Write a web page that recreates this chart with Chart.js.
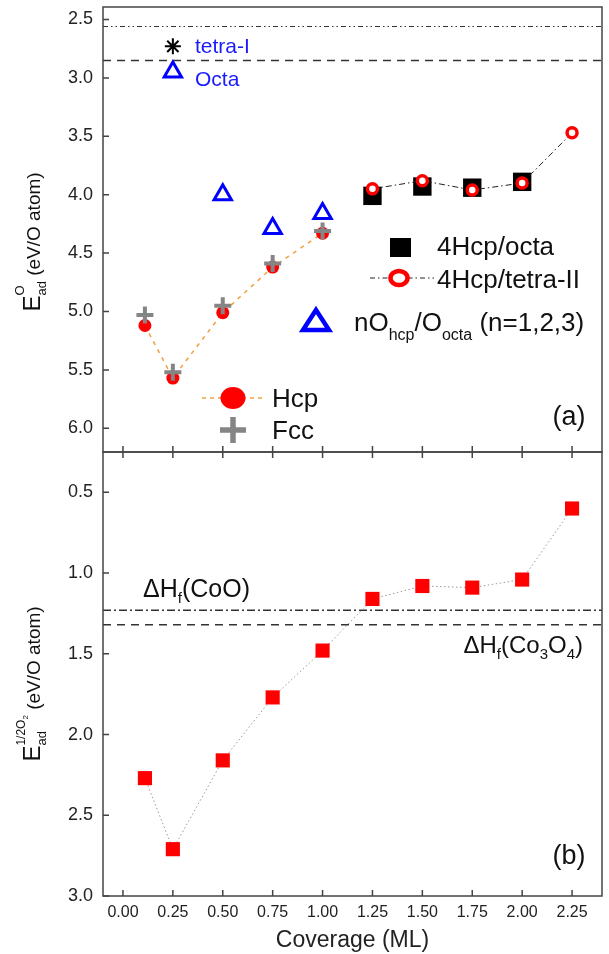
<!DOCTYPE html>
<html>
<head>
<meta charset="utf-8">
<script src="https://cdn.jsdelivr.net/npm/chart.js@4.4.0/dist/chart.umd.min.js"></script>
<style>
  html, body { margin: 0; padding: 0; background: #fff; }
  #wrap { position: relative; width: 609px; height: 954px; }
  #top { position: absolute; left: 0; top: 0; }
  #bottom { position: absolute; left: 0; top: 446px; }
</style>
</head>
<body>
<div id="wrap">
  <canvas id="top" width="609" height="460"></canvas>
  <canvas id="bottom" width="609" height="508"></canvas>
</div>
<script>
const FONT = '"Liberation Sans", Arial, Helvetica, sans-serif';

// shared axis
const xTicks = [0, 0.25, 0.5, 0.75, 1.0, 1.25, 1.5, 1.75, 2.0, 2.25];
const xMin = -0.1, xMax = 2.4;

// panel (a)
const yTicksTop = [2.5, 3.0, 3.5, 4.0, 4.5, 5.0, 5.5, 6.0];
const hcpCov = [0.11, 0.25, 0.5, 0.75, 1.0];
const hcpE = [5.12, 5.57, 5.01, 4.62, 4.33];
const fccE = [5.03, 5.52, 4.95, 4.59, 4.31];
const octaCov = [0.25];
const octaE = [2.95];
const tetraICov = [0.25];
const tetraIE = [2.73];
const nOCov = [0.5, 0.75, 1.0];
const nOE = [4.00, 4.29, 4.16];
const hcp4Cov = [1.25, 1.5, 1.75, 2.0];
const hcp4OctaE = [4.01, 3.93, 3.94, 3.89];
const tetra2Cov = [1.25, 1.5, 1.75, 2.0, 2.25];
const tetra2E = [3.95, 3.88, 3.96, 3.90, 3.47];
const refTop = [2.56, 2.85];

// panel (b)
const yTicksBottom = [0.5, 1.0, 1.5, 2.0, 2.5, 3.0];
const covB = [0.11, 0.25, 0.5, 0.75, 1.0, 1.25, 1.5, 1.75, 2.0, 2.25];
const eB = [2.27, 2.71, 2.16, 1.77, 1.48, 1.16, 1.08, 1.09, 1.04, 0.60];
const refBottom = [1.23, 1.32]; // CoO, Co3O4

function pts(xs, ys) { return xs.map((x, i) => ({ x: x, y: ys[i] })); }
function hline(y) { return [{ x: xMin, y: y }, { x: xMax, y: y }]; }

// no extra room for edge labels, the chart area is set by layout padding
function noPad(s) { s.paddingTop = 0; s.paddingBottom = 0; s.paddingLeft = 0; s.paddingRight = 0; }

// parts: [text, size, dy, noAdvance]
function rich(ctx, parts, x, y, align) {
    let w = 0;
    parts.forEach(p => { if (!p[3]) { ctx.font = p[1] + 'px ' + FONT; w += ctx.measureText(p[0]).width; } });
    let cx = align === 'right' ? x - w : (align === 'center' ? x - w / 2 : x);
    parts.forEach(p => {
        ctx.font = p[1] + 'px ' + FONT;
        ctx.fillText(p[0], cx, y + (p[2] || 0));
        if (!p[3]) cx += ctx.measureText(p[0]).width;
    });
}

function yTitle(ctx, cx, cy, parts) {
    ctx.save();
    ctx.translate(cx, cy);
    ctx.rotate(-Math.PI / 2);
    ctx.textBaseline = 'alphabetic';
    rich(ctx, parts, 0, 0, 'center');
    ctx.restore();
}

// box frame + inward ticks
const frame = {
    id: 'frame',
    afterDatasetsDraw(chart, args, opts) {
        const { ctx, chartArea: a, scales } = chart;
        ctx.save();
        ctx.strokeStyle = '#444';
        ctx.lineWidth = 1.5;
        ctx.strokeRect(a.left, a.top, a.right - a.left, a.bottom - a.top);
        ctx.beginPath();
        scales.y.ticks.forEach(t => {
            const py = scales.y.getPixelForValue(t.value);
            ctx.moveTo(a.left, py); ctx.lineTo(a.left + 6, py);
        });
        xTicks.forEach(v => {
            const px = scales.x.getPixelForValue(v);
            if (opts.tickBottom) { ctx.moveTo(px, a.bottom); ctx.lineTo(px, a.bottom - 6); }
            if (opts.tickTop) { ctx.moveTo(px, a.top); ctx.lineTo(px, a.top + 6); }
        });
        ctx.stroke();
        ctx.restore();
    }
};

const decorTop = {
    id: 'decorTop',
    afterDraw(chart) {
        const ctx = chart.ctx;
        ctx.save();
        ctx.textBaseline = 'alphabetic';
        ctx.textAlign = 'left';

        // labels near the isolated points
        ctx.fillStyle = '#1a1aff';
        ctx.font = '21px ' + FONT;
        ctx.fillText('tetra-I', 195, 53);
        ctx.fillText('Octa', 195, 86);

        // legend right
        ctx.fillStyle = '#000';
        ctx.fillRect(390, 238, 21, 19);
        ctx.strokeStyle = '#222';
        ctx.lineWidth = 1.2;
        ctx.setLineDash([5, 3, 1.5, 3]);
        ctx.beginPath(); ctx.moveTo(370, 278); ctx.lineTo(434, 278); ctx.stroke();
        ctx.setLineDash([]);
        ctx.fillStyle = '#fff';
        ctx.strokeStyle = '#ff0000';
        ctx.lineWidth = 4.5;
        ctx.beginPath(); ctx.ellipse(399, 278, 8.5, 7, 0, 0, Math.PI * 2); ctx.fill(); ctx.stroke();

        ctx.strokeStyle = '#0000ff';
        ctx.lineWidth = 4.5;
        ctx.lineJoin = 'miter';
        ctx.beginPath(); ctx.moveTo(316, 310); ctx.lineTo(329, 330); ctx.lineTo(303, 330); ctx.closePath();
        ctx.fill(); ctx.stroke();

        ctx.fillStyle = '#111';
        rich(ctx, [['4Hcp/octa', 26]], 437, 255);
        rich(ctx, [['4Hcp/tetra-II', 26]], 437, 288);
        rich(ctx, [['nO', 26], ['hcp', 16, 9], ['/O', 26], ['octa', 16, 9], [' (n=1,2,3)', 26]], 354, 331);

        // legend left
        ctx.strokeStyle = '#f0a040';
        ctx.lineWidth = 1.5;
        ctx.setLineDash([4, 4]);
        ctx.beginPath(); ctx.moveTo(202, 398); ctx.lineTo(262, 398); ctx.stroke();
        ctx.setLineDash([]);
        ctx.fillStyle = '#ff0000';
        ctx.beginPath(); ctx.ellipse(233, 398, 12.5, 11, 0, 0, Math.PI * 2); ctx.fill();
        ctx.strokeStyle = '#858585';
        ctx.lineWidth = 5.5;
        ctx.beginPath();
        ctx.moveTo(220, 430); ctx.lineTo(246, 430);
        ctx.moveTo(233, 417); ctx.lineTo(233, 443);
        ctx.stroke();
        ctx.fillStyle = '#111';
        rich(ctx, [['Hcp', 26]], 272, 407);
        rich(ctx, [['Fcc', 26]], 272, 439);

        ctx.font = '27px ' + FONT;
        ctx.textAlign = 'center';
        ctx.textBaseline = 'middle';
        ctx.fillText('(a)', 569, 418);
        ctx.textAlign = 'left';

        ctx.fillStyle = '#111';
        yTitle(ctx, 40, 242, [['E', 24], ['O', 13, -16, true], ['ad', 13, 6], [' (eV/O atom)', 19]]);
        ctx.restore();
    }
};

const decorBottom = {
    id: 'decorBottom',
    afterDraw(chart) {
        const ctx = chart.ctx;
        const off = 446;
        ctx.save();
        ctx.fillStyle = '#111';
        ctx.textBaseline = 'alphabetic';
        ctx.textAlign = 'left';
        rich(ctx, [['\u0394H', 25], ['f', 15, 6], ['(CoO)', 25]], 143, 597 - off);
        rich(ctx, [['\u0394H', 24], ['f', 15, 6], ['(Co', 24], ['3', 15, 6], ['O', 24], ['4', 15, 6], [')', 24]], 583, 653 - off, 'right');

        ctx.font = '27px ' + FONT;
        ctx.textAlign = 'center';
        ctx.textBaseline = 'middle';
        ctx.fillText('(b)', 569, 857 - off);
        ctx.textAlign = 'left';

        yTitle(ctx, 40, 684 - off, [['E', 24], ['ad', 13, 6, true], ['1/2O', 12, -15], ['2', 8, -12], [' (eV/O atom)', 19]]);
        ctx.restore();
    }
};

const yTickFont = { family: FONT, size: 18 };

// Panel (a)
new Chart(document.getElementById('top'), {
    type: 'line',
    data: {
        datasets: [
            { label: 'ref1', data: hline(refTop[0]), borderColor: '#333', borderWidth: 1.2, borderDash: [5, 3, 1.5, 3, 1.5, 3], pointRadius: 0, order: 20 },
            { label: 'ref2', data: hline(refTop[1]), borderColor: '#333', borderWidth: 1.5, borderDash: [8, 6], pointRadius: 0, order: 20 },
            {
                label: 'Hcp', data: pts(hcpCov, hcpE), borderColor: '#f0a040', borderWidth: 1.5, borderDash: [4, 5],
                pointStyle: 'circle', pointRadius: 6.5, pointBackgroundColor: '#ff0000', pointBorderColor: '#ff0000', pointBorderWidth: 0, order: 6
            },
            {
                label: 'Fcc', data: pts(hcpCov, fccE), showLine: false,
                pointStyle: 'cross', pointRadius: 8.5, pointBorderColor: '#858585', pointBorderWidth: 4, order: 5
            },
            {
                label: 'Octa', data: pts(octaCov, octaE), showLine: false,
                pointStyle: 'triangle', pointRadius: 10, pointBackgroundColor: '#fff', pointBorderColor: '#0000ff', pointBorderWidth: 3, order: 4
            },
            {
                label: 'nO', data: pts(nOCov, nOE), showLine: false,
                pointStyle: 'triangle', pointRadius: 10, pointBackgroundColor: '#fff', pointBorderColor: '#0000ff', pointBorderWidth: 3, order: 4
            },
            {
                label: 'tetra-I', data: pts(tetraICov, tetraIE), showLine: false,
                pointStyle: 'star', pointRadius: 8, pointBorderColor: '#000', pointBorderWidth: 2, order: 4
            },
            {
                label: '4Hcp/octa', data: pts(hcp4Cov, hcp4OctaE), showLine: false,
                pointStyle: 'rect', pointRadius: 13, pointBackgroundColor: '#000', pointBorderColor: '#000', pointBorderWidth: 0, order: 3
            },
            {
                label: '4Hcp/tetra-II', data: pts(tetra2Cov, tetra2E), borderColor: '#222', borderWidth: 1, borderDash: [6, 3, 1.5, 3],
                pointStyle: 'circle', pointRadius: 5, pointBackgroundColor: '#fff', pointBorderColor: '#ff0000', pointBorderWidth: 3.5, order: 1
            }
        ]
    },
    options: {
        responsive: false,
        animation: false,
        devicePixelRatio: 1,
        layout: { autoPadding: false, padding: { left: 0, right: 7, top: 7, bottom: 8 } },
        plugins: {
            legend: { display: false },
            tooltip: { enabled: false },
            frame: { tickBottom: true }
        },
        scales: {
            x: { type: 'linear', min: xMin, max: xMax, display: false, afterFit: noPad },
            y: {
                reverse: true, min: 2.393, max: 6.203,
                afterBuildTicks: s => { s.ticks = yTicksTop.map(v => ({ value: v })); },
                afterFit: s => { s.width = 103; noPad(s); },
                grid: { display: false, drawTicks: false },
                border: { display: false },
                ticks: { padding: 10, color: '#222', font: yTickFont, callback: v => v.toFixed(1) }
            }
        }
    },
    plugins: [frame, decorTop]
});

// Panel (b)
new Chart(document.getElementById('bottom'), {
    type: 'line',
    data: {
        datasets: [
            { label: 'CoO', data: hline(refBottom[0]), borderColor: '#333', borderWidth: 1.3, borderDash: [8, 3, 2, 3], pointRadius: 0, order: 20 },
            { label: 'Co3O4', data: hline(refBottom[1]), borderColor: '#333', borderWidth: 1.5, borderDash: [8, 6], pointRadius: 0, order: 20 },
            {
                label: 'E1/2O2', data: pts(covB, eB), borderColor: '#999', borderWidth: 1, borderDash: [1.5, 2.5],
                pointStyle: 'rect', pointRadius: 10, pointBackgroundColor: '#ff0000', pointBorderColor: '#ff0000', pointBorderWidth: 0, order: 1
            }
        ]
    },
    options: {
        responsive: false,
        animation: false,
        devicePixelRatio: 1,
        layout: { autoPadding: false, padding: { left: 0, right: 7, top: 6, bottom: 0 } },
        plugins: {
            legend: { display: false },
            tooltip: { enabled: false },
            frame: { tickBottom: true, tickTop: true }
        },
        scales: {
            x: {
                type: 'linear', min: xMin, max: xMax,
                afterBuildTicks: s => { s.ticks = xTicks.map(v => ({ value: v })); },
                afterFit: s => { s.height = 58; noPad(s); },
                grid: { display: false, drawTicks: false },
                border: { display: false },
                ticks: { padding: 7, color: '#222', font: { family: FONT, size: 16 }, maxRotation: 0, autoSkip: false, callback: v => v.toFixed(2) },
                title: { display: true, text: 'Coverage (ML)', color: '#222', font: { family: FONT, size: 23 }, padding: 0 }
            },
            y: {
                reverse: true, min: 0.25, max: 3.0,
                afterBuildTicks: s => { s.ticks = yTicksBottom.map(v => ({ value: v })); },
                afterFit: s => { s.width = 103; noPad(s); },
                grid: { display: false, drawTicks: false },
                border: { display: false },
                ticks: { padding: 10, color: '#222', font: yTickFont, callback: v => v.toFixed(1) }
            }
        }
    },
    plugins: [frame, decorBottom]
});
</script>
</body>
</html>
